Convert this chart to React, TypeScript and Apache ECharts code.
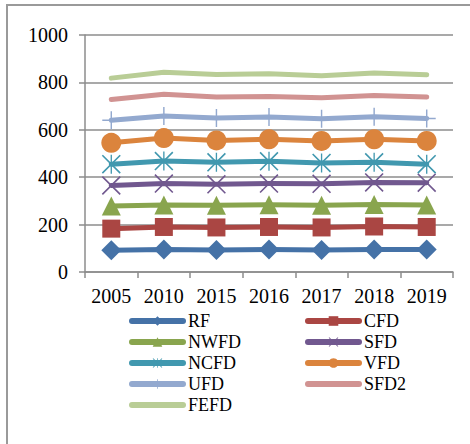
import React, { useEffect, useRef } from "react";
import * as echarts from "echarts";

const categories = ["2005", "2010", "2015", "2016", "2017", "2018", "2019"];
const yTicks = { min: 0, max: 1000, interval: 200 };

const RF = [92, 95, 93, 95, 93, 95, 95];
const CFD = [183, 190, 188, 190, 188, 192, 190];
const NWFD = [278, 283, 282, 284, 282, 285, 283];
const SFD = [365, 373, 370, 373, 372, 378, 377];
const NCFD = [455, 468, 463, 467, 460, 463, 455];
const VFD = [545, 565, 555, 560, 553, 560, 553];
const UFD = [640, 658, 650, 654, 647, 655, 648];
const SFD2 = [728, 750, 738, 741, 735, 745, 738];
const FEFD = [818, 843, 833, 836, 828, 840, 832];

const xPath =
  "path://M0,1.2L1.2,0L20,18.8L18.8,20Z M18.8,0L20,1.2L1.2,20L0,18.8Z";
const starPath =
  "path://M0,1.2L1.2,0L20,18.8L18.8,20Z M18.8,0L20,1.2L1.2,20L0,18.8Z M9.3,0L10.7,0L10.7,20L9.3,20Z";
const plusPath = "path://M9.2,0L10.8,0L10.8,20L9.2,20Z M0,9.2L20,9.2L20,10.8L0,10.8Z";

const seriesDefs = [
  { name: "RF", data: RF, color: "#4572A7", symbol: "diamond", size: 20 },
  { name: "CFD", data: CFD, color: "#AA4643", symbol: "rect", size: 18 },
  { name: "NWFD", data: NWFD, color: "#89A54E", symbol: "triangle", size: 19 },
  { name: "SFD", data: SFD, color: "#71588F", symbol: xPath, size: 19 },
  { name: "NCFD", data: NCFD, color: "#4198AF", symbol: starPath, size: 19 },
  { name: "VFD", data: VFD, color: "#DB843D", symbol: "circle", size: 20 },
  { name: "UFD", data: UFD, color: "#93A9CF", symbol: plusPath, size: 18 },
  { name: "SFD2", data: SFD2, color: "#D19392", symbol: "none", size: 0 },
  { name: "FEFD", data: FEFD, color: "#B9CD96", symbol: "none", size: 0 },
];

const legendLeft = ["RF", "NWFD", "NCFD", "UFD", "FEFD"];
const legendRight = ["CFD", "SFD", "VFD", "SFD2"];
const noMarker = ["SFD2", "FEFD"];

export default function App() {
  const ref = useRef<HTMLDivElement>(null);
  useEffect(() => {
    if (!ref.current) return;
    const chart = echarts.init(ref.current, null, { renderer: "svg" });
    const font = "'Liberation Serif', 'Times New Roman', serif";
    const legendItems = (names: string[]) =>
      names.map((n) =>
        noMarker.includes(n) ? { name: n, itemStyle: { opacity: 0 } } : { name: n }
      );
    const legendCommon = {
      orient: "vertical",
      top: 307,
      itemWidth: 51,
      itemHeight: 12,
      itemGap: 3,
      lineStyle: { width: 6, cap: "round" },
      textStyle: { fontFamily: font, fontSize: 18, color: "#000" },
    };
    chart.setOption({
      animation: false,
      backgroundColor: "#fff",
      graphic: [
        {
          type: "rect",
          shape: { x: 7, y: 5, width: 500, height: 500 },
          style: { fill: "none", stroke: "#9a9a9a", lineWidth: 2 },
          silent: true,
        },
      ],
      grid: { left: 85, right: 17, top: 35, bottom: 172 },
      legend: [
        { ...legendCommon, left: 124, data: legendItems(legendLeft) },
        { ...legendCommon, left: 300, data: legendItems(legendRight) },
      ],
      xAxis: {
        type: "category",
        data: categories,
        boundaryGap: true,
        axisLine: { lineStyle: { color: "#8c8c8c", width: 1.5 } },
        axisTick: { show: true, length: 6, inside: false, lineStyle: { color: "#8c8c8c", width: 1.5 } },
        axisLabel: { fontFamily: font, fontSize: 20, color: "#000", margin: 14, interval: 0 },
      },
      yAxis: {
        type: "value",
        min: yTicks.min,
        max: yTicks.max,
        interval: yTicks.interval,
        axisLine: { show: true, lineStyle: { color: "#8c8c8c", width: 1.5 } },
        axisTick: { show: true, length: 6, lineStyle: { color: "#8c8c8c", width: 1.5 } },
        splitLine: { show: true, lineStyle: { color: "#8c8c8c", width: 1.5 } },
        axisLabel: {
          fontFamily: font,
          fontSize: 20,
          color: "#000",
          margin: 17,
          formatter: (v: number) => String(v),
        },
      },
      series: seriesDefs.map((s) => ({
        name: s.name,
        type: "line",
        data: s.data,
        symbol: s.symbol,
        symbolSize: s.size,
        showSymbol: s.symbol !== "none",
        color: s.color,
        lineStyle: { color: s.color, width: 5, cap: "round", join: "round" },
        itemStyle: { color: s.color },
        emphasis: { disabled: true },
      })),
    });
    return () => chart.dispose();
  }, []);
  return (
    <div
      ref={ref}
      style={{ position: "fixed", left: 0, top: 0, width: 470, height: 444 }}
    />
  );
}
